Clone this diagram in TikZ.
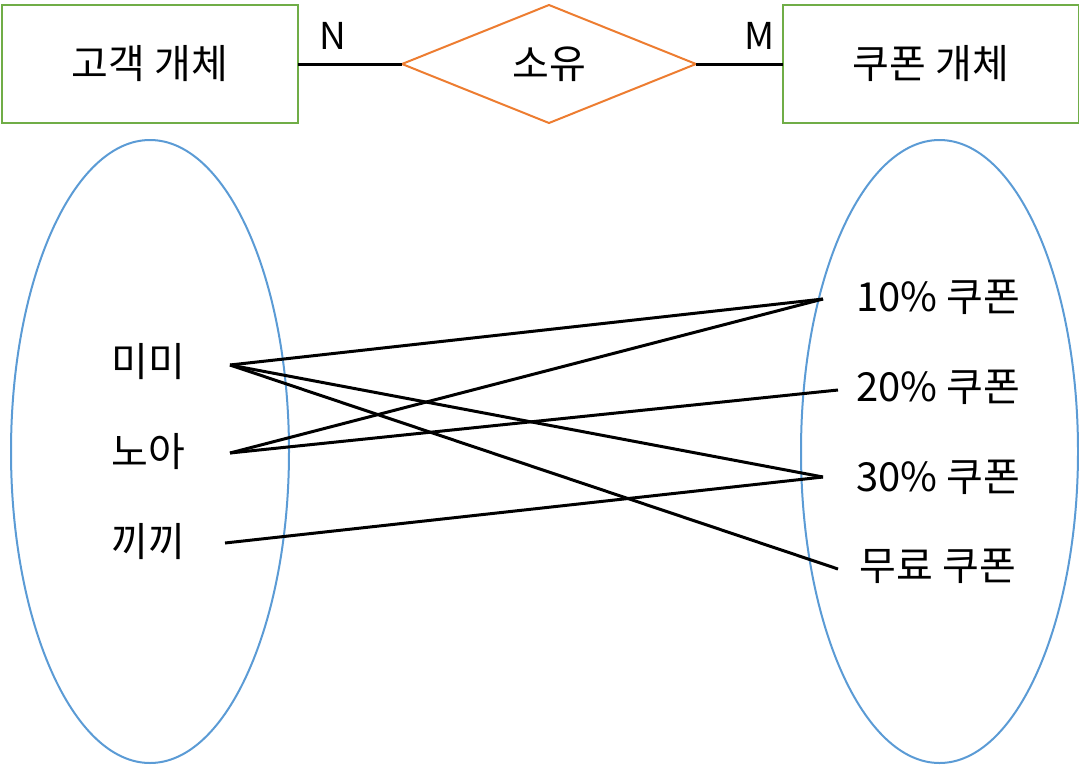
\documentclass[tikz,border=0pt]{standalone}
\usepackage{fontspec}
\setmainfont{Noto Sans CJK KR}
\usetikzlibrary{shapes.geometric}

\definecolor{entgreen}{HTML}{70AD47}
\definecolor{relorange}{HTML}{ED7D31}
\definecolor{setblue}{HTML}{5B9BD5}

\begin{document}
\begin{tikzpicture}[
	x=1pt, y=-1pt,
	% Define the styles for the nodes
	every node/.style={font=\fontsize{40}{46}\selectfont, inner sep=0pt, outer sep=0pt},
	entity/.style={rectangle, draw=entgreen, line width=2.2pt, minimum width=296, minimum height=118},
	relation/.style={diamond, draw=relorange, line width=2pt, aspect=2.49, minimum width=294, minimum height=118},
	card/.style={font=\fontsize{37}{40}\selectfont},
	link/.style={line width=3pt, black}
	]
	\useasboundingbox (0,0) rectangle (1079,764);
	
	% --- ER DIAGRAM ---
	\node (customer) at (150,64) [entity] {고객 개체};
	\node (owns) at (549,64) [relation] {소유};
	\node (coupon) at (931,64) [entity] {쿠폰 개체};
	\node (cardn) at (333,36) [card] {N};
	\node (cardm) at (760,36) [card] {M};
	
	\draw[link] (customer) -- (owns);
	\draw[link] (owns) -- (coupon);
	
	% --- SETS ---
	\draw[setblue, line width=2pt] (150,451.5) ellipse [x radius=139, y radius=311.5];
	\draw[setblue, line width=2pt] (939.5,451.5) ellipse [x radius=138.5, y radius=311.5];
	
	\node (mimi) at (148,362) {미미};
	\node (noa) at (148,452) {노아};
	\node (kkikki) at (148,542) {끼끼};
	
	\node (c10) at (938,297) {10\% 쿠폰};
	\node (c20) at (938,387) {20\% 쿠폰};
	\node (c30) at (938,477) {30\% 쿠폰};
	\node (cfree) at (938,566) {무료 쿠폰};
	
	% line ends next to the labels
	\coordinate (mimi-r) at (230,365);
	\coordinate (noa-r) at (230,453);
	\coordinate (kkikki-r) at (225,543);
	\coordinate (c10-l) at (823,299);
	\coordinate (c20-l) at (838,390);
	\coordinate (c30-l) at (823,477);
	\coordinate (cfree-l) at (838,569);
	
	% --- OWNERSHIP ---
	\draw[link] (mimi-r) -- (c10-l);
	\draw[link] (mimi-r) -- (c30-l);
	\draw[link] (mimi-r) -- (cfree-l);
	\draw[link] (noa-r) -- (c10-l);
	\draw[link] (noa-r) -- (c20-l);
	\draw[link] (kkikki-r) -- (c30-l);
	
\end{tikzpicture}
\end{document}
